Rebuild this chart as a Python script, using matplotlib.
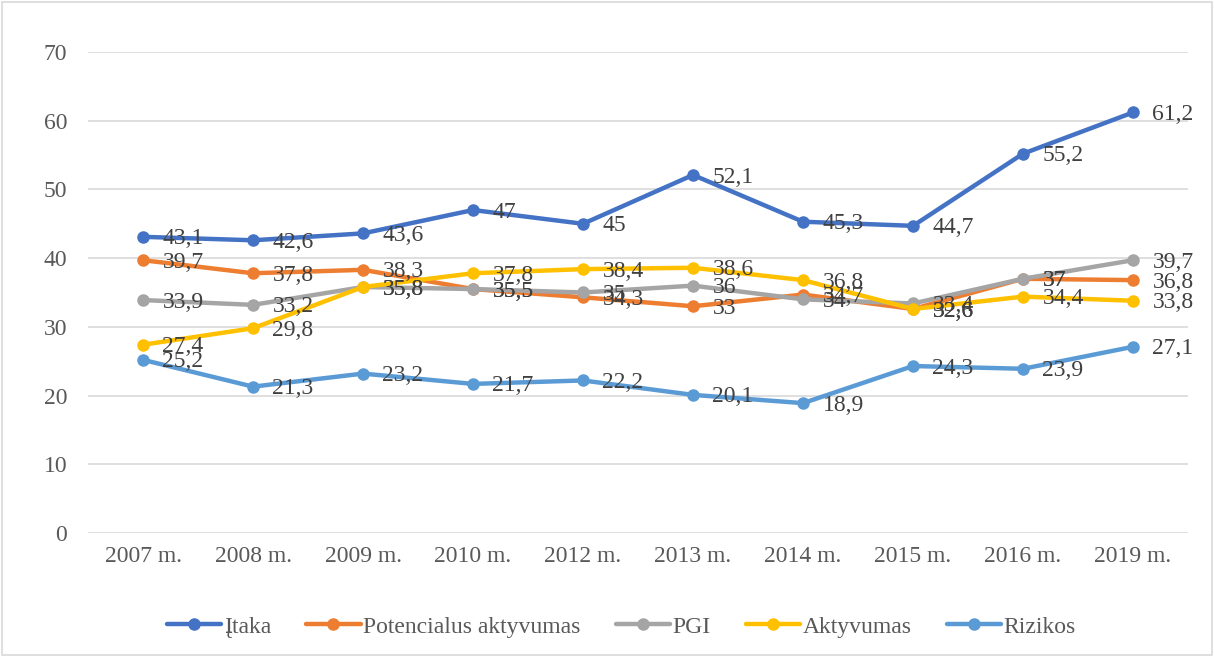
import matplotlib
matplotlib.use("Agg")
import matplotlib.pyplot as plt
from matplotlib.patches import Rectangle

years = ["2007 m.", "2008 m.", "2009 m.", "2010 m.", "2012 m.",
         "2013 m.", "2014 m.", "2015 m.", "2016 m.", "2019 m."]

itaka = [43.1, 42.6, 43.6, 47, 45, 52.1, 45.3, 44.7, 55.2, 61.2]
potencialus = [39.7, 37.8, 38.3, 35.5, 34.3, 33, 34.7, 32.6, 37, 36.8]
pgi = [33.9, 33.2, 35.8, 35.5, 35, 36, 34, 33.4, 37, 39.7]
aktyvumas = [27.4, 29.8, 35.8, 37.8, 38.4, 38.6, 36.8, 32.6, 34.4, 33.8]
rizikos = [25.2, 21.3, 23.2, 21.7, 22.2, 20.1, 18.9, 24.3, 23.9, 27.1]

series = [
    ("Įtaka", itaka, "#4472C4"),
    ("Potencialus aktyvumas", potencialus, "#ED7D31"),
    ("PGI", pgi, "#A5A5A5"),
    ("Aktyvumas", aktyvumas, "#FFC000"),
    ("Rizikos", rizikos, "#5B9BD5"),
]

plt.rcParams["font.family"] = ["Liberation Serif", "DejaVu Serif"]

fig = plt.figure(figsize=(12.14, 6.57), dpi=100)
ax = fig.add_axes([0.0725, 0.1887, 0.9061, 0.7322])

x = list(range(len(years)))
for name, vals, color in series:
    ax.plot(x, vals, color=color, lw=3.2, marker="o", ms=8,
            solid_capstyle="round", label=name, zorder=3)

# data labels drawn above all the lines
for name, vals, color in series:
    for xi, v in zip(x, vals):
        txt = f"{v:g}".replace(".", ",")
        ax.annotate(txt, (xi, v), xytext=(14, -1.5), textcoords="offset points",
                    ha="left", va="center", fontsize=17, color="#404040",
                    zorder=5)

ax.set_xlim(-0.5, len(years) - 0.5)
ax.set_ylim(0, 70)
ax.set_yticks(range(0, 71, 10))
ax.set_xticks(x)
ax.set_xticklabels(years)
ax.tick_params(axis="both", length=0, labelsize=17, labelcolor="#595959")
ax.tick_params(axis="y", pad=15)
ax.tick_params(axis="x", pad=9)
ax.grid(axis="y", color="#D9D9D9", lw=1.2, zorder=0)
for s in ax.spines.values():
    s.set_visible(False)

ax.legend(loc="center", bbox_to_anchor=(0.485, -0.195), ncol=5,
          frameon=False, fontsize=17, handlelength=2.3, columnspacing=1.5,
          handletextpad=0.1, labelcolor="#595959")

fig.patches.append(Rectangle((0.002, 0.003), 0.996, 0.994, transform=fig.transFigure,
                             fill=False, edgecolor="#D9D9D9", lw=1.2))

fig.savefig("out.png", dpi=100)
